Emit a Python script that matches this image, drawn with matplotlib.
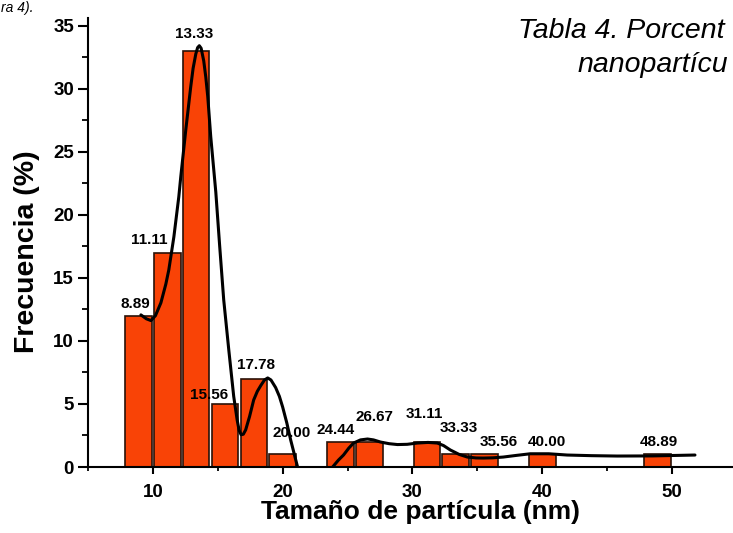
import matplotlib
matplotlib.use('Agg')
import matplotlib.pyplot as plt
from matplotlib.ticker import MultipleLocator

plt.rcParams['font.family'] = ['Liberation Sans', 'DejaVu Sans']

# --- datos del histograma ---
sizes = [8.89, 11.11, 13.33, 15.56, 17.78, 20.00, 24.44, 26.67,
         31.11, 33.33, 35.56, 40.00, 48.89]
freq = [12, 17, 33, 5, 7, 1, 2, 2, 2, 1, 1, 1, 1]
labels = ['8.89', '11.11', '13.33', '15.56', '17.78', '20.00', '24.44',
          '26.67', '31.11', '33.33', '35.56', '40.00', '48.89']
# desplazamiento de etiquetas respecto a la barra (dx, dy en unidades de datos)
lab_dx = [-0.2, -1.4, -0.15, -1.2, 0.15, 0.7, -0.35, 0.4, -0.2, 0.25, 1.1, 0.35, 0.1]
lab_dy = [0.9, 1.0, 1.3, 0.7, 1.1, 1.7, 0.95, 2.0, 2.2, 2.1, 1.0, 1.0, 1.0]

# curva suave
curve_x = [9.08, 9.5, 9.85, 10.2, 10.62, 11.0, 11.23, 11.62, 12.0, 12.15, 12.54, 12.92,
           13.1, 13.31, 13.45, 13.58, 13.72, 13.92, 14.08, 14.23, 14.46, 14.85, 15.15,
           15.46, 15.85, 16.23, 16.5, 16.65, 16.8, 16.97, 17.15, 17.45, 17.77, 18.05,
           18.31, 18.6, 18.85, 19.1, 19.46, 19.75, 20.0, 20.32, 20.62, 21.15, 21.8,
           22.5, 23.2, 23.85, 24.3, 24.69, 25.1, 25.46, 26.0, 26.54, 27.0, 27.54,
           28.2, 28.85, 29.6, 30.38, 31.2, 31.92, 32.4, 32.92, 33.6, 34.23, 34.9,
           35.46, 36.2, 37.0, 38.0, 39.08, 40.5, 41.92, 43.8, 45.77, 48.5, 51.77]
curve_y = [12.06, 11.75, 11.61, 12.0, 13.02, 14.5, 15.63, 18.25, 21.43, 23.0, 26.75, 30.16,
           31.6, 32.75, 33.25, 33.4, 33.2, 32.2, 30.9, 29.37, 26.19, 21.8, 17.5,
           13.25, 9.29, 5.6, 3.7, 2.9, 2.56, 2.6, 2.94, 4.0, 5.32, 6.0,
           6.45, 6.9, 7.06, 6.9, 6.3, 5.6, 4.76, 3.5, 2.14, 0.0, -1.5,
           -2.2, -1.4, 0.0, 0.55, 0.95, 1.5, 1.9, 2.15, 2.22, 2.15, 1.98,
           1.85, 1.78, 1.8, 1.9, 1.95, 1.9, 1.7, 1.35, 1.0, 0.79, 0.72,
           0.71, 0.73, 0.79, 0.92, 1.05, 1.05, 0.95, 0.9, 0.87, 0.88, 0.95]

fig = plt.figure(figsize=(7.33, 5.33), dpi=100)
ax = fig.add_axes([0.12, 0.1238, 0.88, 0.8425])

bar_color = '#F94306'
ax.bar(sizes, freq, width=2.05, color=bar_color, edgecolor='#2a1208', linewidth=1.2, zorder=2)
ax.plot(curve_x, curve_y, color='black', lw=2.2, zorder=3,
        solid_capstyle='round', solid_joinstyle='round')

for x, h, t, dx, dy in zip(sizes, freq, labels, lab_dx, lab_dy):
    ax.text(x + dx, h + dy, t, ha='center', va='center', fontsize=11,
            fontweight='bold', zorder=4)

ax.set_xlim(5, 54.7)
ax.set_ylim(0, 35.6)
ax.xaxis.set_major_locator(MultipleLocator(10))
ax.xaxis.set_minor_locator(MultipleLocator(5))
ax.yaxis.set_major_locator(MultipleLocator(5))
ax.yaxis.set_minor_locator(MultipleLocator(2.5))
ax.spines['top'].set_visible(False)
ax.spines['right'].set_visible(False)
for s in ['left', 'bottom']:
    ax.spines[s].set_linewidth(1.5)
ax.tick_params(axis='x', which='major', direction='out', length=5, width=1.5,
               labelsize=13.5, pad=7)
ax.tick_params(axis='x', which='minor', direction='out', length=3, width=1.3)
ax.tick_params(axis='y', which='major', direction='out', length=7, width=1.5,
               labelsize=13.5, pad=3)
ax.tick_params(axis='y', which='minor', direction='out', length=4.5, width=1.3)
for lbl in ax.get_xticklabels() + ax.get_yticklabels():
    lbl.set_fontweight('bold')

ax.set_xlabel('Tamaño de partícula (nm)', fontsize=19, fontweight='bold')
ax.set_ylabel('Frecuencia (%)', fontsize=20.5, fontweight='bold')
ax.xaxis.set_label_coords(0.515, -0.073)
ax.yaxis.set_label_coords(-0.075, 0.48)

# texto del documento de fondo (recortado)
fig.text(518 / 733, 1 - 38 / 533, 'Tabla 4. Porcent', fontsize=20.5,
         style='italic', ha='left', va='baseline')
fig.text(578 / 733, 1 - 72 / 533, 'nanopartícu', fontsize=20.5,
         style='italic', ha='left', va='baseline')
fig.text(0.002, 0.998, 'ra 4).', fontsize=10, style='italic', ha='left', va='top')

fig.savefig('out.png', dpi=100)
